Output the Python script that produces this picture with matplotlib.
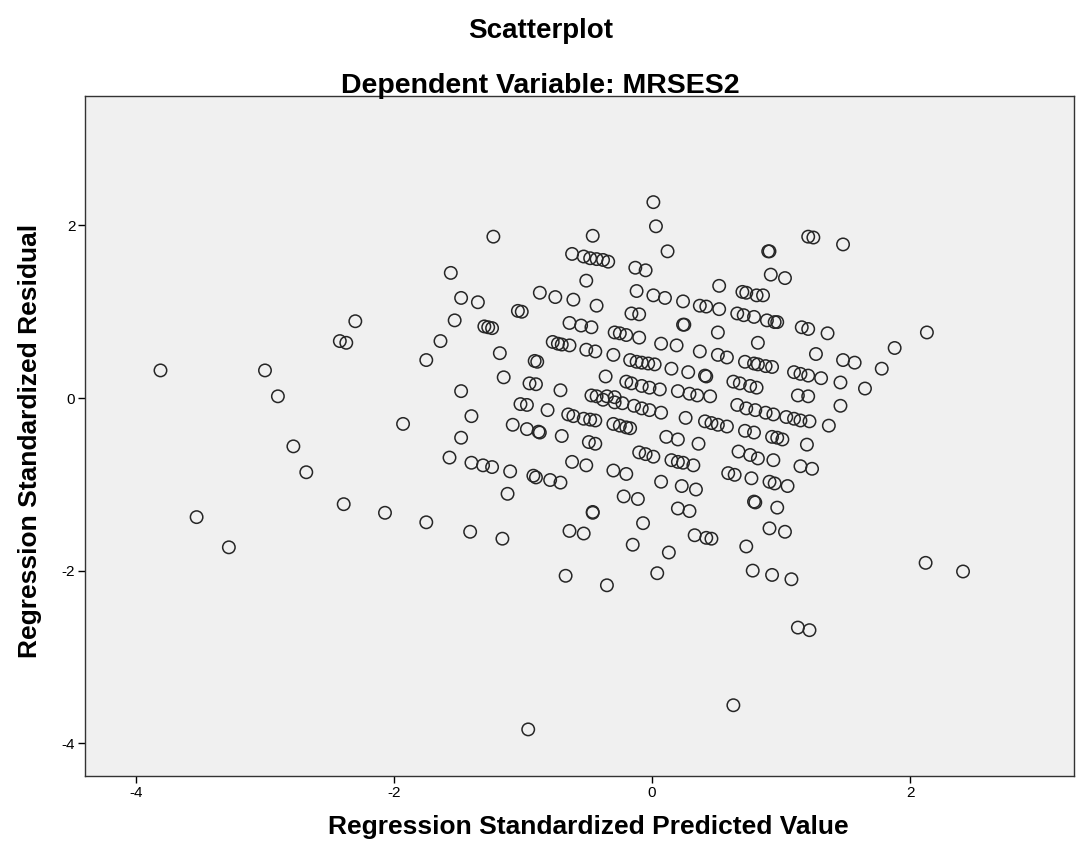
import matplotlib
matplotlib.use("Agg")
import matplotlib.pyplot as plt

title = "Scatterplot"
subtitle = "Dependent Variable: MRSES2"
xlabel = "Regression Standardized Predicted Value"
ylabel = "Regression Standardized Residual"
xticks = [-4, -2, 0, 2]
yticks = [-4, -2, 0, 2]

pts_left = [(-3.81,0.32),(-3.00,0.32),(-2.90,0.02),(-2.78,-0.56),(-2.68,-0.86),(-3.53,-1.38),(-3.28,-1.73),
            (-2.30,0.89),(-2.42,0.66),(-2.37,0.64),(-1.75,0.44),(-1.64,0.66),(-1.93,-0.30),(-2.39,-1.23),
            (-2.07,-1.33),(-1.75,-1.44)]
pts_a = [(-1.23,1.87),(-0.46,1.88),(-0.62,1.67),(-0.53,1.64),(-0.48,1.62),(-0.43,1.61),(-0.38,1.60),(-0.34,1.58),
         (-0.51,1.36),(-1.56,1.45),(-1.48,1.16),(-1.35,1.11),(-1.53,0.90),
         (-1.04,1.01),(-1.01,1.00),(-1.30,0.83),(-1.27,0.82),(-1.24,0.81),(-0.87,1.22),(-0.75,1.17),(-0.61,1.14),
         (-0.43,1.07),(-0.64,0.87),(-0.55,0.84),(-0.47,0.82),(-0.77,0.65),(-0.73,0.63),(-0.70,0.62),(-0.64,0.61),
         (-0.51,0.56),(-0.44,0.54),(-1.18,0.52),(-0.91,0.43),(-0.89,0.42),(-1.15,0.24),(-0.95,0.17),(-0.90,0.16),
         (-0.71,0.09),(-1.48,0.08),(-0.47,0.03),(-0.43,0.02)]
pts_b = [(-1.02,-0.07),(-0.97,-0.08),(-0.81,-0.14),(-0.65,-0.19),(-0.61,-0.21),(-0.53,-0.24),(-0.48,-0.25),
         (-0.44,-0.26),(-1.40,-0.21),(-1.08,-0.31),(-0.97,-0.36),(-0.88,-0.39),(-0.87,-0.40),(-0.70,-0.44),
         (-1.48,-0.46),(-0.49,-0.51),(-0.44,-0.53),(-1.57,-0.69),(-1.40,-0.75),(-1.31,-0.78),(-1.24,-0.80),
         (-1.10,-0.85),(-0.62,-0.74),(-0.51,-0.78),(-0.92,-0.90),(-0.90,-0.92),(-0.79,-0.95),(-0.71,-0.98),
         (-1.12,-1.11),(-0.46,-1.33),(-0.46,-1.32),(-1.41,-1.55),(-1.16,-1.63),(-0.64,-1.54),(-0.53,-1.57),
         (-0.67,-2.06)]
pts_c = [(0.01,2.27),(0.03,1.99),(0.12,1.70),(-0.13,1.51),(-0.05,1.48),(-0.12,1.24),(0.01,1.19),(0.10,1.16),
         (0.24,1.12),(0.37,1.07),(0.42,1.06),(0.52,1.30),(0.52,1.03),(0.70,1.23),(0.73,1.22),(0.81,1.19),
         (0.66,0.98),(0.71,0.96),(0.79,0.94),(-0.16,0.98),(-0.10,0.97),(0.24,0.85),(0.25,0.85),(0.51,0.76),
         (-0.29,0.76),(-0.25,0.75),(-0.20,0.73),(-0.10,0.70),(0.07,0.63),(0.19,0.61),(0.37,0.54),(0.51,0.50),
         (0.58,0.47),(0.82,0.64),(-0.30,0.50),(-0.17,0.44),(-0.12,0.42),(-0.08,0.41),(-0.03,0.40),(0.02,0.39),
         (0.15,0.34),(0.28,0.30),(0.41,0.26),(0.42,0.25),(0.72,0.42),(0.79,0.40),(0.82,0.39),(-0.36,0.25),
         (-0.20,0.19),(-0.16,0.17),(-0.08,0.14),(-0.02,0.12),(0.06,0.10),(0.20,0.08),(0.29,0.05),(0.35,0.03),
         (0.45,0.02),(0.63,0.19),(0.68,0.17),(0.76,0.14),(0.81,0.12),(-0.35,0.02),(-0.29,0.01)]
pts_d = [(-0.38,-0.02),(-0.29,-0.05),(-0.23,-0.06),(-0.14,-0.09),(-0.08,-0.12),(-0.02,-0.14),(0.07,-0.17),
         (0.26,-0.23),(0.41,-0.27),(0.46,-0.29),(0.51,-0.31),(0.58,-0.33),(0.66,-0.08),(0.73,-0.12),(0.80,-0.14),
         (-0.30,-0.30),(-0.25,-0.32),(-0.20,-0.34),(-0.17,-0.35),(0.11,-0.45),(0.20,-0.48),(0.36,-0.53),
         (0.72,-0.38),(0.79,-0.40),(-0.10,-0.63),(-0.05,-0.65),(0.01,-0.68),(0.15,-0.72),(0.20,-0.74),
         (0.24,-0.75),(0.32,-0.78),(0.67,-0.62),(0.76,-0.66),(0.82,-0.70),(-0.30,-0.84),(-0.20,-0.88),
         (0.07,-0.97),(0.23,-1.02),(0.34,-1.06),(0.59,-0.87),(0.64,-0.89),(0.77,-0.93),(-0.22,-1.14),
         (-0.11,-1.17),(0.20,-1.28),(0.29,-1.31),(0.79,-1.20),(0.80,-1.21),(-0.07,-1.45),(0.33,-1.59),
         (0.42,-1.62),(0.46,-1.63),(0.73,-1.72),(-0.15,-1.70),(0.13,-1.79),(0.04,-2.03),(0.78,-2.00),
         (-0.35,-2.17)]
pts_e = [(1.21,1.87),(1.25,1.86),(1.48,1.78),(0.90,1.70),(0.91,1.70),(0.92,1.43),(1.03,1.39),(0.86,1.19),
         (0.89,0.90),(0.95,0.88),(0.97,0.88),(1.16,0.82),(1.21,0.80),(1.36,0.75),(2.13,0.76),(1.88,0.58),
         (1.27,0.51),(1.48,0.44),(1.57,0.41),(1.78,0.34),(0.88,0.37),(0.93,0.36),(1.10,0.30),(1.15,0.28),
         (1.21,0.26),(1.31,0.23),(1.46,0.18),(1.65,0.11),(1.13,0.03),(1.21,0.02)]
pts_f = [(1.46,-0.09),(0.88,-0.17),(0.94,-0.19),(1.04,-0.22),(1.10,-0.24),(1.15,-0.26),(1.22,-0.27),
         (1.37,-0.32),(0.93,-0.45),(0.97,-0.46),(1.01,-0.48),(1.20,-0.54),(0.94,-0.72),(1.15,-0.79),
         (1.24,-0.82),(0.91,-0.97),(0.95,-0.99),(1.05,-1.02),(0.97,-1.27),(0.91,-1.51),(1.03,-1.55),
         (0.93,-2.05),(1.08,-2.10),(2.12,-1.91)]
pts_g = [(2.41,-2.01),(1.13,-2.66),(1.22,-2.69),(0.63,-3.56),(-0.96,-3.84)]

all_pts = pts_left + pts_a + pts_b + pts_c + pts_d + pts_e + pts_f + pts_g
pred = [p[0] for p in all_pts]
resid = [p[1] for p in all_pts]

plt.rcParams['font.family'] = ['Liberation Sans', 'DejaVu Sans']

fig = plt.figure(figsize=(10.81, 8.63), dpi=100)
fig.patch.set_facecolor('white')
ax = fig.add_axes([85/1081, 1-776/863, (1074-85)/1081, (776-96)/863])
ax.set_facecolor('#F0F0F0')
ax.scatter(pred, resid, s=80, facecolors='none', edgecolors='#262626', linewidths=1.1)

ax.set_xlim(-4.395, 3.27)
ax.set_ylim(-4.38, 3.50)
ax.set_xticks(xticks)
ax.set_yticks(yticks)
ax.set_xticklabels([str(t) for t in xticks])
ax.set_yticklabels([str(t) for t in yticks])
ax.tick_params(direction='out', length=5, width=1, labelsize=11, colors='black', pad=2)
for s in ax.spines.values():
    s.set_color('#333333')
    s.set_linewidth(1.0)

ax.set_xlabel(xlabel, fontsize=19, fontweight='bold', labelpad=11)
ax.set_ylabel(ylabel, fontsize=19, fontweight='bold', labelpad=14)
ax.xaxis.set_label_coords(0.5086, -0.048, transform=ax.transAxes) if False else None
xl = ax.xaxis.label
xl.set_x(0.5086)
yl = ax.yaxis.label
yl.set_y(0.4926)

fig.text(0.5, 1-38/863, title, ha='center', va='baseline', fontsize=20, fontweight='bold')
fig.text(0.5, 1-93/863, subtitle, ha='center', va='baseline', fontsize=20.5, fontweight='bold')

fig.savefig('out.png', dpi=100)
